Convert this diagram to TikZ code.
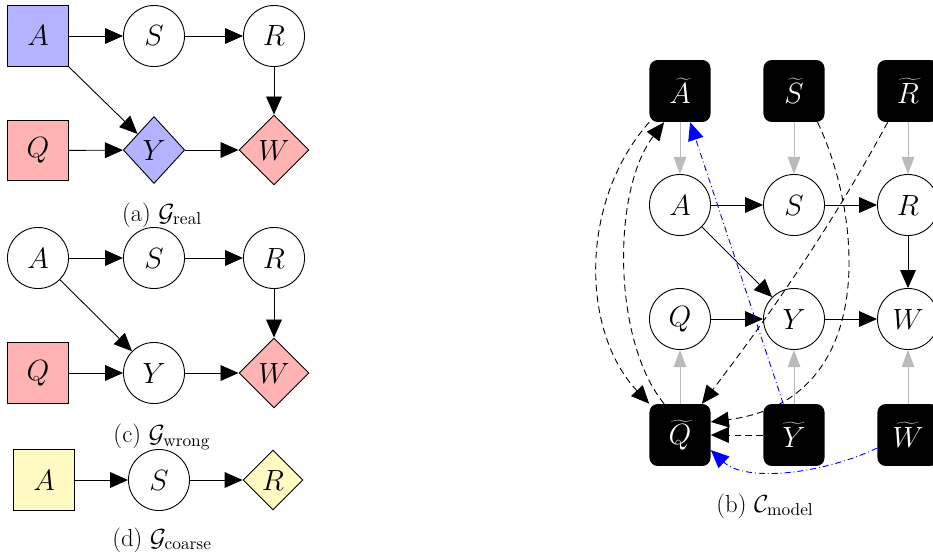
\RequirePackage{fix-cm}
\documentclass[tikz,border=0pt]{standalone}
\usetikzlibrary{arrows.meta,shapes.geometric}
\definecolor{nblue}{RGB}{179,179,255}
\definecolor{nred}{RGB}{255,179,179}
\definecolor{nyellow}{RGB}{255,249,194}
\definecolor{lgray}{RGB}{187,187,187}
\begin{document}
\begin{tikzpicture}[x=0.6667pt,y=-0.6667pt,
  every node/.style={font=\fontsize{19.5}{23}\selectfont, inner sep=0pt},
  circ/.style={circle, draw, line width=0.6pt, minimum size=40.7pt},
  sq/.style={rectangle, draw, line width=0.6pt, minimum size=40.5pt},
  dia/.style={diamond, draw, line width=0.6pt},
  tbox/.style={rectangle, rounded corners=5.5pt, fill=black, text=white, minimum width=40.7pt, minimum height=41.3pt},
  arr/.style={-{Triangle[length=12pt,width=10.5pt]}, line width=0.6pt},
  garr/.style={-{Triangle[length=11.5pt,width=8.5pt]}, color=lgray, line width=0.6pt},
  darr/.style={-{Triangle[length=12pt,width=10.5pt]}, line width=0.6pt, dash pattern=on 4.5pt off 2.8pt},
  barr/.style={-{Triangle[length=12pt,width=10.5pt]}, line width=0.6pt, blue, dash pattern=on 4pt off 2pt on 0.6pt off 2pt},
  captext/.style={font=\fontsize{16.5}{19}\selectfont}
]
\clip (0,0) rectangle (933,555);
\useasboundingbox (0,0) rectangle (933,555);

% ---------- (a) G_real
\node[sq, fill=nblue] (aA) at (38,36) {$A$};
\node[circ] (aS) at (154,36) {$S$};
\node[circ] (aR) at (274,36) {$R$};
\node[sq, fill=nred] (aQ) at (38,150.5) {$Q$};
\node[dia, fill=nblue, minimum width=41pt, minimum height=44.7pt] (aY) at (154,150) {$Y$};
\node[dia, fill=nred, minimum width=46.7pt, minimum height=46.7pt] (aW) at (274,150) {$W$};
\draw[arr] (aA) -- (aS);
\draw[arr] (aS) -- (aR);
\draw[arr] (aA.south east) -- (aY);
\draw[arr] (aQ) -- (aY);
\draw[arr] (aY) -- (aW);
\draw[arr] (aR) -- (aW);
\node[captext] (capa) at (162,215) {(a) $\mathcal{G}_{\mathrm{real}}$};

% ---------- (c) G_wrong
\node[circ] (cA) at (38,258) {$A$};
\node[circ] (cS) at (154,258) {$S$};
\node[circ] (cR) at (274,258) {$R$};
\node[sq, fill=nred] (cQ) at (38,373) {$Q$};
\node[circ] (cY) at (154,373) {$Y$};
\node[dia, fill=nred, minimum width=46.7pt, minimum height=46.7pt] (cW) at (274,373) {$W$};
\draw[arr] (cA) -- (cS);
\draw[arr] (cS) -- (cR);
\draw[arr] (cA) -- (cY);
\draw[arr] (cQ) -- (cY);
\draw[arr] (cY) -- (cW);
\draw[arr] (cR) -- (cW);
\node[captext] (capc) at (162,437) {(c) $\mathcal{G}_{\mathrm{wrong}}$};

% ---------- (d) G_coarse
\node[sq, fill=nyellow] (dA) at (44,480) {$A$};
\node[circ] (dS) at (159,480) {$S$};
\node[dia, fill=nyellow, minimum width=40pt, minimum height=40pt] (dR) at (273,480) {$R$};
\draw[arr] (dA) -- (dS);
\draw[arr] (dS) -- (dR);
\node[captext] (capd) at (162,540) {(d) $\mathcal{G}_{\mathrm{coarse}}$};

% ---------- (b) C_model
\node[tbox] (At) at (680,91) {$\widetilde{A}$};
\node[tbox] (St) at (794,91) {$\widetilde{S}$};
\node[tbox] (Rt) at (908,91) {$\widetilde{R}$};
\node[circ] (A) at (680,205) {$A$};
\node[circ] (S) at (794,205) {$S$};
\node[circ] (R) at (908,205) {$R$};
\node[circ] (Q) at (680,319) {$Q$};
\node[circ] (Y) at (794,319) {$Y$};
\node[circ] (W) at (908,319) {$W$};
\node[tbox] (Qt) at (680,435) {$\widetilde{Q}$};
\node[tbox] (Yt) at (794,435) {$\widetilde{Y}$};
\node[tbox] (Wt) at (908,435) {$\widetilde{W}$};

\draw[garr] (At) -- (A);
\draw[garr] (St) -- (S);
\draw[garr] (Rt) -- (R);
\draw[garr] (Qt) -- (Q);
\draw[garr] (Yt) -- (Y);
\draw[garr] (Wt) -- (W);

\draw[arr] (A) -- (S);
\draw[arr] (S) -- (R);
\draw[arr] (A) -- (Y);
\draw[arr] (Q) -- (Y);
\draw[arr] (Y) -- (W);
\draw[arr] (R) -- (W);

\draw[darr] (At.south west) .. controls (580,200) and (580,330) .. (Qt.north west);
\draw[darr] (Qt.117) .. controls (612,340) and (612,190) .. (At.-117);
\draw[darr] (St.-53) .. controls (862,215) and (880,400) .. (Qt.23);
\draw[darr] (Rt.-123) .. controls (836,218) and (774,310) .. (Qt.55);
\draw[darr] (Yt.west) -- (Qt.east);
\draw[barr] (Yt.109) -- (At.-72);
\draw[barr] (Wt.203) .. controls (820,475) and (745,482) .. (Qt.-26);

\node[captext] (capb) at (765,506) {(b) $\mathcal{C}_{\mathrm{model}}$};
\end{tikzpicture}
\end{document}
